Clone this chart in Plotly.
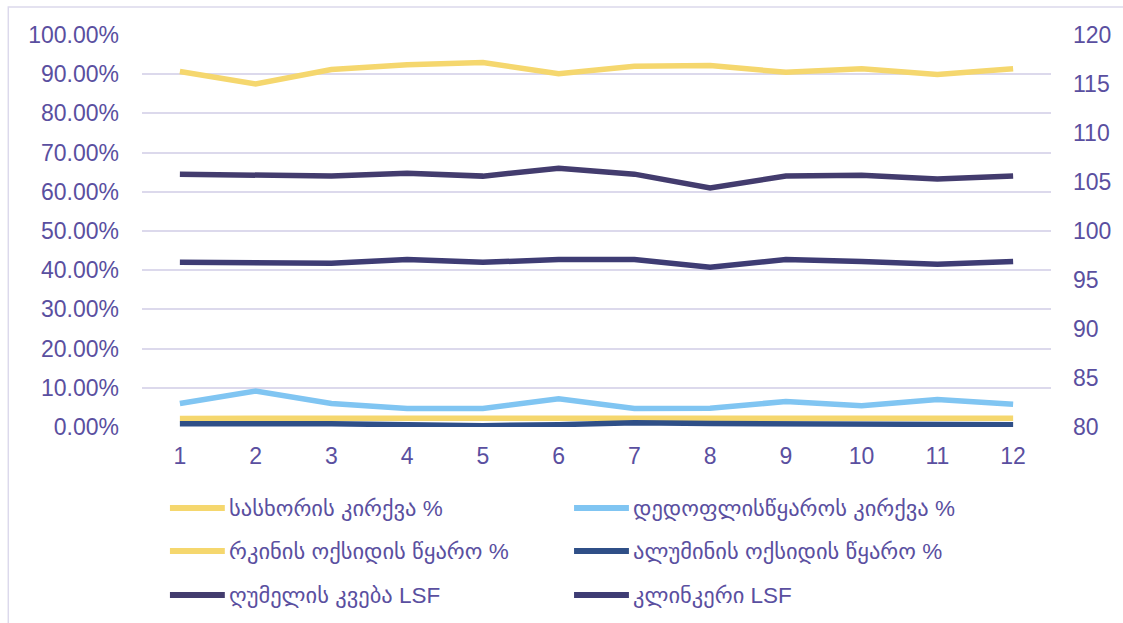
import plotly.graph_objects as go

# Monthly raw-mix composition (%) and LSF values
months = [1, 2, 3, 4, 5, 6, 7, 8, 9, 10, 11, 12]

sasxoris_kirqva = [90.7, 87.5, 91.2, 92.4, 93.0, 90.1, 92.0, 92.2, 90.5, 91.4, 89.9, 91.4]
dedoplistskaro_kirqva = [6.0, 9.2, 6.0, 4.75, 4.75, 7.2, 4.75, 4.8, 6.5, 5.4, 7.0, 5.8]
rkinis_oqsidi = [2.2, 2.2, 2.2, 2.2, 2.2, 2.2, 2.2, 2.25, 2.25, 2.25, 2.25, 2.25]
aluminis_oqsidi = [0.8, 0.9, 0.8, 0.6, 0.35, 0.6, 1.1, 0.9, 0.8, 0.8, 0.8, 0.6]

ghumelis_kveba_lsf = [105.8, 105.7, 105.6, 105.9, 105.6, 106.4, 105.8, 104.4, 105.6, 105.7, 105.3, 105.6]
klinkeri_lsf = [96.8, 96.8, 96.7, 97.1, 96.8, 97.1, 97.1, 96.3, 97.1, 96.9, 96.6, 96.9]

names = [
    "სასხორის კირქვა %",
    "დედოფლისწყაროს კირქვა %",
    "რკინის ოქსიდის წყარო %",
    "ალუმინის ოქსიდის წყარო %",
    "ღუმელის კვება LSF",
    "კლინკერი LSF",
]
colors = ["#F5D76E", "#80C5F2", "#F5D76E", "#2F4F87", "#433C6E", "#3E3C74"]
series = [sasxoris_kirqva, dedoplistskaro_kirqva, rkinis_oqsidi, aluminis_oqsidi,
          ghumelis_kveba_lsf, klinkeri_lsf]
on_right = [False, False, False, False, True, True]

TEXT = "#5A4FA0"
GRID = "#DCD9EC"
FONT = "Liberation Sans, DejaVu Sans, sans-serif"

fig = go.Figure()
# draw order: LSF lines first, then percentages on top
order = [4, 5, 0, 1, 2, 3]
for i in order:
    fig.add_trace(go.Scatter(
        x=months,
        y=[v / 100 for v in series[i]] if not on_right[i] else series[i],
        name=names[i],
        mode="lines",
        line=dict(color=colors[i], width=5.5),
        yaxis="y2" if on_right[i] else "y",
        showlegend=False,
    ))

# Plot-area geometry in pixels (used for the hand-built legend)
W, H = 1123, 623
L, R, T, B = 142, 70, 35, 196
pw, ph = W - L - R, H - T - B


def px_x(px):
    return (px - L) / pw


def px_y(py):
    return (H - B - py) / ph


legend_pos = [(170, 508), (575, 508), (170, 551), (575, 551), (170, 595), (575, 595)]
shapes = []
annotations = []
for i, (lx, ly) in enumerate(legend_pos):
    shapes.append(dict(type="line", xref="paper", yref="paper",
                       x0=px_x(lx), x1=px_x(lx + 55), y0=px_y(ly), y1=px_y(ly),
                       line=dict(color=colors[i], width=6)))
    annotations.append(dict(xref="paper", yref="paper", x=px_x(lx + 57), y=px_y(ly),
                            text=names[i], showarrow=False, xanchor="left", yanchor="middle",
                            font=dict(size=22.5, color=TEXT, family=FONT)))

# outer chart frame
shapes.append(dict(type="rect", xref="paper", yref="paper",
                   x0=px_x(8), x1=px_x(1140), y0=px_y(640), y1=px_y(7),
                   line=dict(color=GRID, width=1.5), layer="below"))

fig.update_layout(
    width=W, height=H,
    margin=dict(l=L, r=R, t=T, b=B),
    paper_bgcolor="white", plot_bgcolor="white",
    font=dict(family=FONT, color=TEXT, size=23),
    xaxis=dict(range=[0.5, 12.5], tickvals=months, ticktext=[str(m) for m in months],
               showgrid=False, zeroline=False, showline=False,
               ticks="", ticklabelstandoff=13, tickfont=dict(size=23, color=TEXT)),
    yaxis=dict(range=[0, 1], dtick=0.1, tickformat=".2%",
               showgrid=True, gridcolor=GRID, gridwidth=1.5, zeroline=False,
               showline=False, ticks="", ticklabelstandoff=22,
               tickfont=dict(size=23, color=TEXT)),
    yaxis2=dict(range=[80, 120], dtick=5, overlaying="y", side="right",
                showgrid=False, zeroline=False, showline=False, ticks="",
                ticklabelstandoff=21, tickfont=dict(size=23, color=TEXT)),
    shapes=shapes,
    annotations=annotations,
)

fig.write_html("out.html")
